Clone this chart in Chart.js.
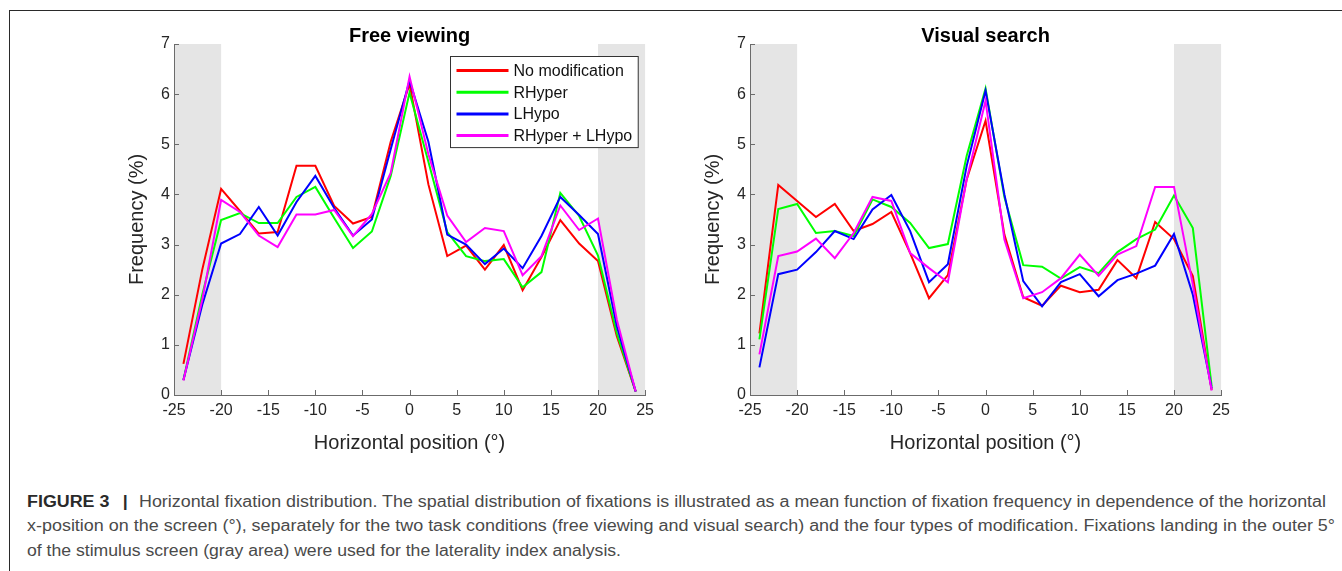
<!DOCTYPE html>
<html>
<head>
<meta charset="utf-8">
<title>Horizontal fixation distribution</title>
<script src="https://cdn.jsdelivr.net/npm/chart.js@4.4.1/dist/chart.umd.min.js"></script>
<style>
  html, body { margin: 0; padding: 0; background: #fff; }
  body { width: 1342px; height: 571px; position: relative; overflow: hidden;
         font-family: "Liberation Sans", Arial, Helvetica, sans-serif; }
  .frame { position: absolute; left: 9px; top: 10px; width: 1400px; height: 600px;
           border-top: 1.5px solid #2a2a2a; border-left: 1.5px solid #2a2a2a; }
  canvas { position: absolute; top: 12px; }
  #fv { left: 110px; }
  #vs { left: 686px; }
  .cap { position: absolute; left: 27px; font-size: 16px; line-height: 18px; color: #4a4a4a;
         white-space: nowrap; transform-origin: 0 0; }
  .cap b { color: #2a2a2a; }
  .cap .bar { margin: 0 10px 0 12px; }
</style>
</head>
<body>
<div class="frame"></div>
<canvas id="fv" width="550" height="448"></canvas>
<canvas id="vs" width="550" height="448"></canvas>

<div class="cap" style="top:493px" data-w="1299"><b>FIGURE 3</b><b class="bar">|</b>Horizontal fixation distribution. The spatial distribution of fixations is illustrated as a mean function of fixation frequency in dependence of the horizontal</div>
<div class="cap" style="top:517px" data-w="1308">x-position on the screen (°), separately for the two task conditions (free viewing and visual search) and the four types of modification. Fixations landing in the outer 5°</div>
<div class="cap" style="top:542px" data-w="594">of the stimulus screen (gray area) were used for the laterality index analysis.</div>

<script>
/* ---- data -------------------------------------------------------- */
const POSITIONS = [-24, -22, -20, -18, -16, -14, -12, -10, -8, -6, -4, -2, 0,
                   2, 4, 6, 8, 10, 12, 14, 16, 18, 20, 22, 24];
const SERIES_NAMES = ['No modification', 'RHyper', 'LHypo', 'RHyper + LHypo'];
const PANEL_TITLES = ['Free viewing', 'Visual search'];
const X_LABEL = 'Horizontal position (°)';
const Y_LABEL = 'Frequency (%)';
const OUTER_ZONES = [[-25, -20], [20, 25]];   // gray areas, in degrees

// free viewing
const FV_NOMOD  = [0.62, 2.50, 4.11, 3.67, 3.22, 3.25, 4.57, 4.57, 3.77, 3.42, 3.55, 5.05, 6.20,
                   4.20, 2.77, 2.98, 2.50, 2.99, 2.09, 2.75, 3.49, 3.02, 2.67, 1.17, 0.07];
const FV_RHYPER = [0.30, 2.00, 3.49, 3.63, 3.43, 3.43, 3.95, 4.15, 3.53, 2.93, 3.26, 4.37, 6.03,
                   4.65, 3.25, 2.77, 2.67, 2.71, 2.15, 2.45, 4.03, 3.57, 2.78, 1.23, 0.07];
const FV_LHYPO  = [0.30, 1.80, 3.02, 3.21, 3.75, 3.18, 3.85, 4.37, 3.73, 3.18, 3.50, 4.90, 6.27,
                   5.05, 3.20, 3.00, 2.61, 2.92, 2.53, 3.17, 3.95, 3.59, 3.21, 1.37, 0.07];
const FV_BOTH   = [0.29, 1.90, 3.89, 3.65, 3.18, 2.95, 3.60, 3.60, 3.69, 3.17, 3.61, 4.43, 6.35,
                   4.80, 3.58, 3.05, 3.33, 3.27, 2.39, 2.77, 3.78, 3.29, 3.52, 1.50, 0.07];

// visual search
const VS_NOMOD  = [1.23, 4.19, 3.87, 3.55, 3.81, 3.27, 3.41, 3.65, 2.83, 1.93, 2.39, 4.30, 5.47,
                   3.20, 1.95, 1.78, 2.18, 2.05, 2.10, 2.69, 2.33, 3.45, 3.11, 2.37, 0.10];
const VS_RHYPER = [1.11, 3.71, 3.81, 3.23, 3.27, 3.17, 3.90, 3.75, 3.43, 2.93, 3.01, 4.77, 6.11,
                   3.95, 2.59, 2.56, 2.32, 2.55, 2.43, 2.85, 3.11, 3.30, 3.98, 3.33, 0.17];
const VS_LHYPO  = [0.55, 2.41, 2.50, 2.85, 3.27, 3.11, 3.70, 3.99, 3.27, 2.25, 2.61, 4.57, 6.07,
                   4.00, 2.27, 1.77, 2.25, 2.41, 1.97, 2.29, 2.42, 2.58, 3.21, 2.00, 0.13];
const VS_BOTH   = [0.81, 2.77, 2.86, 3.12, 2.73, 3.23, 3.95, 3.87, 2.83, 2.53, 2.25, 4.30, 5.87,
                   3.10, 1.93, 2.05, 2.33, 2.80, 2.38, 2.80, 2.97, 4.15, 4.15, 2.20, 0.09];

/* ---- styles ------------------------------------------------------ */
const COLORS = ['#ff0000', '#00ff00', '#0000ff', '#ff00ff'];
const FONT = '"Liberation Sans", Arial, Helvetica, sans-serif';
const AXIS = '#6b6b6b';
const TEXT = '#262626';

Chart.defaults.font.family = FONT;

/* gray outer zones + inward ticks (matlab look) */
const frame = {
  id: 'frame',
  beforeDraw(chart) {
    const { ctx, chartArea: a, scales: { x } } = chart;
    ctx.save();
    ctx.fillStyle = '#e5e5e5';
    OUTER_ZONES.forEach(([lo, hi]) => {
      const x0 = x.getPixelForValue(lo), x1 = x.getPixelForValue(hi);
      ctx.fillRect(x0, a.top, x1 - x0, a.bottom - a.top);
    });
    ctx.restore();
  },
  afterDatasetsDraw(chart) {
    const { ctx, chartArea: a, scales: { x, y } } = chart;
    ctx.save();
    ctx.strokeStyle = AXIS;
    ctx.lineWidth = 1;
    ctx.beginPath();
    x.ticks.forEach(t => {
      const px = Math.round(x.getPixelForValue(t.value)) + 0.5;
      ctx.moveTo(px, a.bottom); ctx.lineTo(px, a.bottom - 5);
    });
    y.ticks.forEach(t => {
      const py = Math.round(y.getPixelForValue(t.value)) + 0.5;
      ctx.moveTo(a.left, py); ctx.lineTo(a.left + 5, py);
    });
    ctx.stroke();
    ctx.restore();
  }
};

/* boxed legend inside the plot, top right */
const boxLegend = {
  id: 'boxLegend',
  afterDraw(chart, args, opts) {
    if (!opts.show) return;
    const { ctx, chartArea: a } = chart;
    const sets = chart.data.datasets;
    ctx.save();
    ctx.font = '16px ' + FONT;
    const textW = Math.max(...sets.map(d => ctx.measureText(d.label).width));
    const sample = 52, rowH = 21.7;
    const w = 6 + sample + 5 + textW + 6;
    const h = 14 + (sets.length - 1) * rowH + 12;
    const left = Math.round(a.right - 7 - w) + 0.5, top = Math.round(a.top + 12) + 0.5;
    ctx.fillStyle = '#fff';
    ctx.fillRect(left, top, w, h);
    ctx.strokeStyle = '#333';
    ctx.lineWidth = 1;
    ctx.strokeRect(left, top, w, h);
    sets.forEach((d, i) => {
      const cy = top + 14 + i * rowH;
      ctx.strokeStyle = d.borderColor;
      ctx.lineWidth = 3;
      ctx.beginPath();
      ctx.moveTo(left + 6, cy); ctx.lineTo(left + 6 + sample, cy);
      ctx.stroke();
      ctx.fillStyle = '#111';
      ctx.textBaseline = 'middle';
      ctx.fillText(d.label, left + 6 + sample + 5, cy + 1);
    });
    ctx.restore();
  }
};

function makePanel(id, title, series, showLegend) {
  const datasets = series.map((vals, i) => ({
    label: SERIES_NAMES[i],
    data: POSITIONS.map((x, j) => ({ x, y: vals[j] })),
    borderColor: COLORS[i],
    borderWidth: 2,
    pointRadius: 0,
    tension: 0,
    fill: false,
    order: series.length - 1 - i      // last series on top, like matlab
  }));

  return new Chart(document.getElementById(id), {
    type: 'line',
    data: { datasets },
    plugins: [frame, boxLegend],
    options: {
      responsive: false,
      animation: false,
      layout: { padding: { left: 0, right: 12, top: 17, bottom: 0 } },
      plugins: {
        legend: { display: false },
        tooltip: { enabled: false },
        boxLegend: { show: showLegend },
        title: {
          display: true, text: title, color: '#000', fullSize: false,
          font: { size: 20, weight: 'bold', lineHeight: 0.7 },
          padding: { top: 0, bottom: 1 }
        }
      },
      scales: {
        x: {
          type: 'linear', min: -25, max: 25,
          afterFit: s => { s.height = 65; },
          ticks: { stepSize: 5, color: TEXT, font: { size: 16 }, padding: 6, maxRotation: 0, autoSkip: false },
          grid: { drawOnChartArea: false, drawTicks: false },
          border: { color: AXIS, width: 1 },
          title: { display: true, text: X_LABEL, color: TEXT, font: { size: 20 }, padding: { top: 0, bottom: 5 } }
        },
        y: {
          min: 0, max: 7,
          afterFit: s => { s.width = 64; },
          ticks: { stepSize: 1, color: TEXT, font: { size: 16 }, padding: 4 },
          grid: { drawOnChartArea: false, drawTicks: false },
          border: { color: AXIS, width: 1 },
          title: { display: true, text: Y_LABEL, color: TEXT, font: { size: 20 }, padding: { top: 15, bottom: 0 } }
        }
      }
    }
  });
}

makePanel('fv', PANEL_TITLES[0], [FV_NOMOD, FV_RHYPER, FV_LHYPO, FV_BOTH], true);
makePanel('vs', PANEL_TITLES[1], [VS_NOMOD, VS_RHYPER, VS_LHYPO, VS_BOTH], false);

/* caption lines fitted to the widths of the original */
document.querySelectorAll('.cap').forEach(el => {
  const target = +el.dataset.w;
  const w = el.getBoundingClientRect().width;
  if (w > 0) el.style.transform = 'scaleX(' + (target / w).toFixed(4) + ')';
});
</script>
</body>
</html>
